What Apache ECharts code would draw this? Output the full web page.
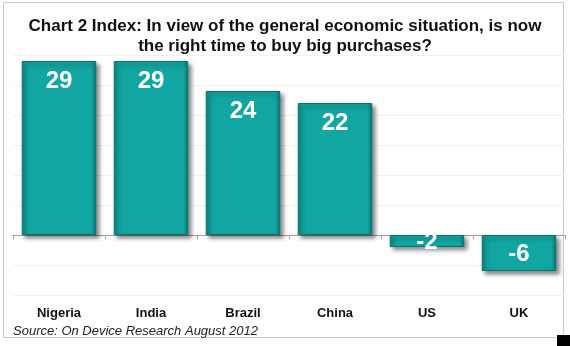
<!DOCTYPE html>
<html>
<head>
<meta charset="utf-8">
<script src="https://cdn.jsdelivr.net/npm/echarts@6/dist/echarts.min.js"></script>
<style>
  html, body { margin: 0; padding: 0; background: #fff; }
  #chart { width: 570px; height: 346px; }
</style>
</head>
<body>
<div id="chart"></div>
<script>
// Index by country
const countries = ['Nigeria', 'India', 'Brazil', 'China', 'US', 'UK'];
const indexValues = [29, 29, 24, 22, -2, -6];
const yMin = -10, yMax = 30, yStep = 5;

const barFill = {
  type: 'linear', x: 0, y: 0, x2: 1, y2: 0,
  colorStops: [
    { offset: 0, color: '#0a8481' },
    { offset: 0.07, color: '#11a6a1' },
    { offset: 0.93, color: '#11a6a1' },
    { offset: 1, color: '#097b78' }
  ]
};

const chart = echarts.init(document.getElementById('chart'), null, { renderer: 'canvas' });

chart.setOption({
  animation: false,
  backgroundColor: '#ffffff',
  title: {
    text: 'Chart 2 Index: In view of the general economic situation, is now\nthe right time to buy big purchases?',
    left: 'center',
    top: 11,
    textStyle: {
      fontFamily: 'Liberation Sans, Arial, sans-serif',
      fontSize: 17,
      fontWeight: 'bold',
      color: '#111',
      lineHeight: 20
    }
  },
  graphic: [
    {
      type: 'rect', shape: { x: 3.5, y: 2.5, width: 560, height: 335 },
      style: { fill: 'none', stroke: '#c8c8c8', lineWidth: 1 }, z: -1
    },
    {
      type: 'rect', shape: { x: 557, y: 335, width: 13, height: 11 },
      style: { fill: '#000' }
    },
    {
      type: 'text', left: 13, top: 325,
      style: {
        text: 'Source: On Device Research August 2012',
        font: 'italic 13px Liberation Sans, Arial, sans-serif',
        fill: '#222'
      }
    }
  ],
  grid: { left: 13, right: 5, top: 55, bottom: 51 },
  xAxis: [
    {
      type: 'category',
      data: countries,
      position: 'bottom',
      axisLine: { show: false, onZero: false },
      axisTick: { show: false },
      axisLabel: {
        margin: 12,
        fontFamily: 'Liberation Sans, Arial, sans-serif',
        fontSize: 13,
        fontWeight: 'bold',
        color: '#111'
      }
    },
    {
      type: 'category',
      data: countries,
      position: 'bottom',
      axisLine: { show: true, onZero: true, lineStyle: { color: '#a0a0a0', width: 1 } },
      axisTick: { show: true, length: 4, inside: false, lineStyle: { color: '#a0a0a0' } },
      axisLabel: { show: false }
    }
  ],
  yAxis: {
    type: 'value',
    min: yMin, max: yMax, interval: yStep,
    axisLine: { show: false },
    axisTick: { show: false },
    axisLabel: { show: false },
    splitLine: { show: true, lineStyle: { color: '#f1f1f1', width: 1 } }
  },
  series: [{
    type: 'bar',
    xAxisIndex: 0,
    data: indexValues.map(v => ({
      value: v,
      label: {
        position: v >= 0 ? 'insideTop' : 'insideBottom',
        distance: v >= 0 ? 8 : (v > -4 ? -7 : 5)
      }
    })),
    barWidth: '81%',
    itemStyle: {
      color: barFill,
      borderColor: '#087370',
      borderWidth: 1,
      shadowColor: 'rgba(0,0,0,0.45)',
      shadowBlur: 4,
      shadowOffsetX: 3,
      shadowOffsetY: 3
    },
    label: {
      show: true,
      color: '#ffffff',
      fontFamily: 'Liberation Sans, Arial, sans-serif',
      fontSize: 24,
      fontWeight: 'bold'
    },
    z: 3
  }]
});
</script>
</body>
</html>
